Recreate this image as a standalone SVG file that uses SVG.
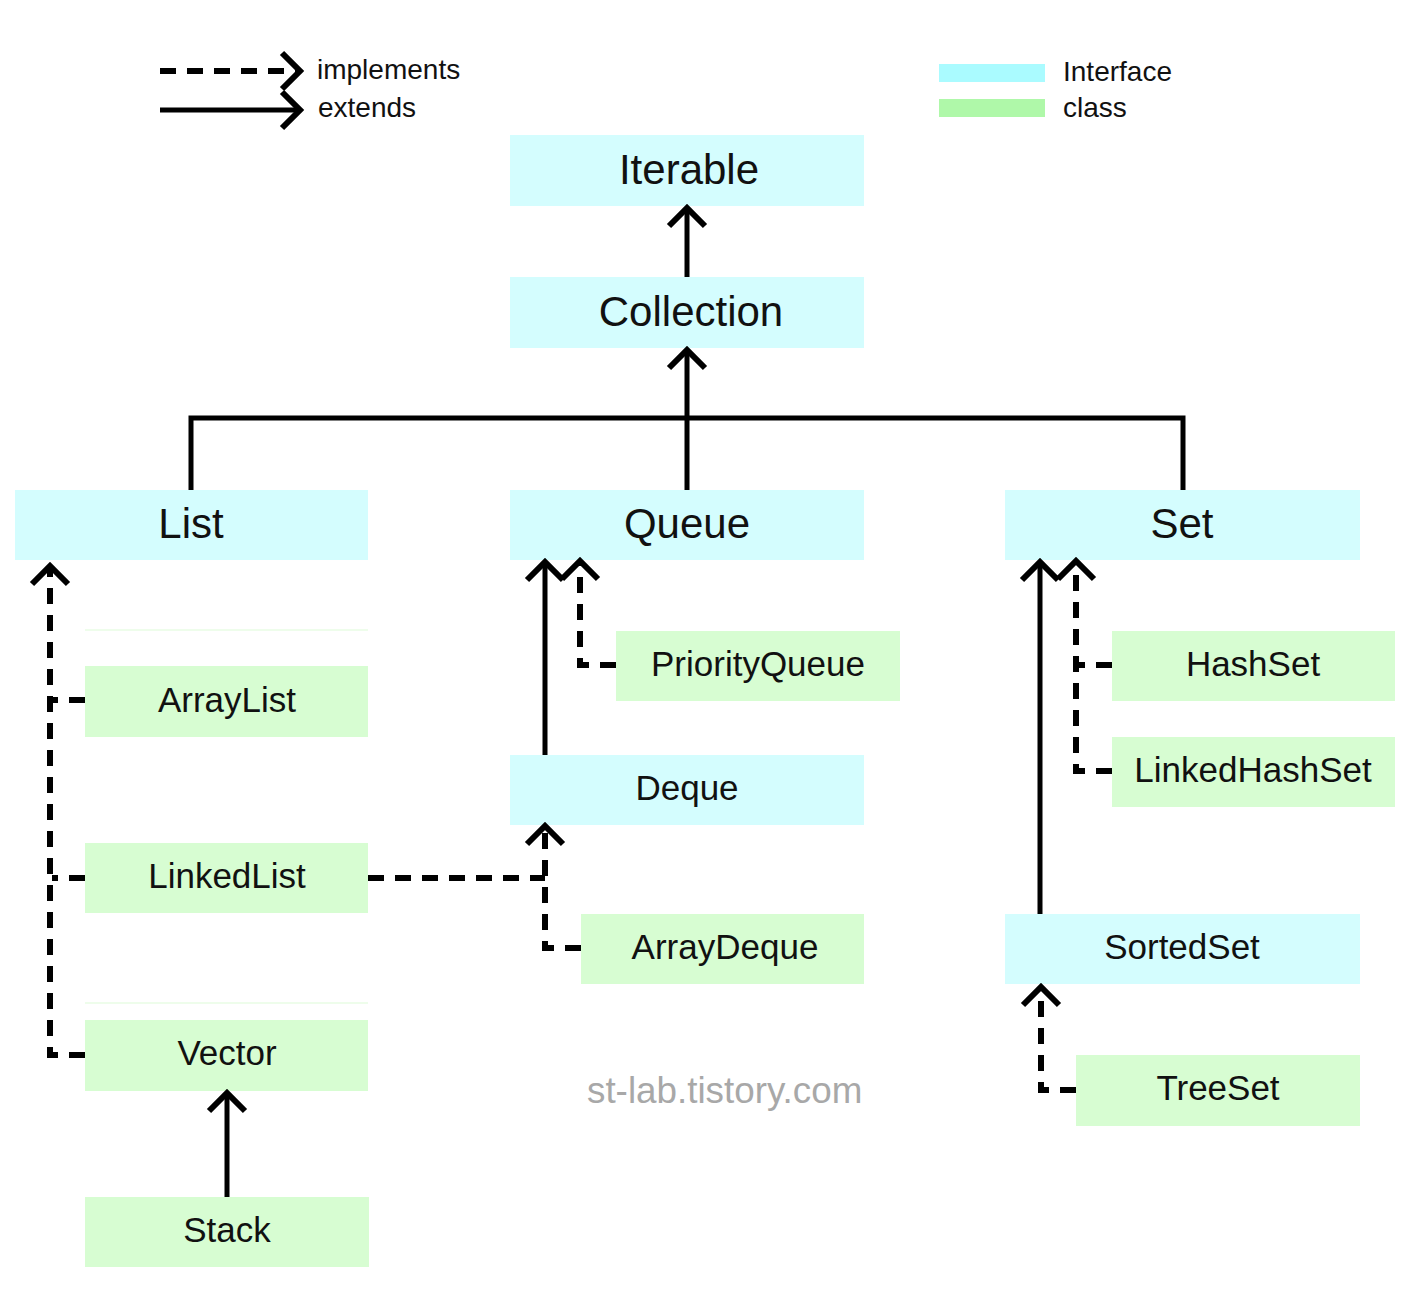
<svg xmlns="http://www.w3.org/2000/svg" width="1416" height="1306" viewBox="0 0 1416 1306">
<style>
.iface{fill:#D4FDFE}
.cls{fill:#D7FDD2}
.lbl{font-family:"Liberation Sans",Arial,sans-serif;fill:#111;text-anchor:middle}
.big{font-size:42px}
.mid{font-size:35px}
.leg{font-family:"Liberation Sans",Arial,sans-serif;fill:#111;font-size:28px}
.solid{fill:none;stroke:#000;stroke-width:5}
.dash{fill:none;stroke:#000;stroke-width:6;stroke-dasharray:16 11}
.faint{stroke:#E8FDE5;stroke-width:1.5}
</style>
<defs>
<marker id="chev" markerUnits="userSpaceOnUse" viewBox="-26 -24 30 48" refX="0" refY="0" markerWidth="30" markerHeight="48" orient="auto" overflow="visible">
<path d="M -18 -18 L 0 0 L -18 18" fill="none" stroke="#000" stroke-width="6" stroke-linejoin="miter"/>
</marker>
</defs>
<rect width="1416" height="1306" fill="#fff"/>

<g id="legend">
<path class="dash" d="M 160 71 H 300" marker-end="url(#chev)"/>
<path class="solid" d="M 160 110 H 300" marker-end="url(#chev)"/>
<text class="leg" x="317" y="79">implements</text>
<text class="leg" x="318" y="117">extends</text>
<rect x="939" y="64" width="106" height="18" fill="#AAFBFF"/>
<rect x="939" y="99" width="106" height="18" fill="#AFF8A9"/>
<text class="leg" x="1063" y="81">Interface</text>
<text class="leg" x="1063" y="117">class</text>
</g>

<g id="faint-lines">
<line class="faint" x1="85" y1="630" x2="368" y2="630"/>
<line class="faint" x1="85" y1="1003" x2="368" y2="1003"/>
</g>

<g id="node-iterable"><rect class="iface" x="510" y="135" width="354" height="71"/><text class="lbl big" x="689" y="184">Iterable</text></g>
<g id="node-collection"><rect class="iface" x="510" y="277" width="354" height="71"/><text class="lbl big" x="691" y="326">Collection</text></g>
<g id="node-list"><rect class="iface" x="15" y="490" width="353" height="70"/><text class="lbl big" x="191" y="538">List</text></g>
<g id="node-queue"><rect class="iface" x="510" y="490" width="354" height="70"/><text class="lbl big" x="687" y="538">Queue</text></g>
<g id="node-set"><rect class="iface" x="1005" y="490" width="355" height="70"/><text class="lbl big" x="1182" y="538">Set</text></g>
<g id="node-arraylist"><rect class="cls" x="85" y="666" width="283" height="71"/><text class="lbl mid" x="227" y="712">ArrayList</text></g>
<g id="node-linkedlist"><rect class="cls" x="85" y="843" width="283" height="70"/><text class="lbl mid" x="227" y="888">LinkedList</text></g>
<g id="node-vector"><rect class="cls" x="85" y="1020" width="283" height="71"/><text class="lbl mid" x="227" y="1065">Vector</text></g>
<g id="node-stack"><rect class="cls" x="85" y="1197" width="284" height="70"/><text class="lbl mid" x="227" y="1242">Stack</text></g>
<g id="node-priorityqueue"><rect class="cls" x="616" y="631" width="284" height="70"/><text class="lbl mid" x="758" y="676">PriorityQueue</text></g>
<g id="node-deque"><rect class="iface" x="510" y="755" width="354" height="70"/><text class="lbl mid" x="687" y="800">Deque</text></g>
<g id="node-arraydeque"><rect class="cls" x="581" y="914" width="283" height="70"/><text class="lbl mid" x="725" y="959">ArrayDeque</text></g>
<g id="node-hashset"><rect class="cls" x="1112" y="631" width="283" height="70"/><text class="lbl mid" x="1253" y="676">HashSet</text></g>
<g id="node-linkedhashset"><rect class="cls" x="1112" y="737" width="283" height="70"/><text class="lbl mid" x="1253" y="782">LinkedHashSet</text></g>
<g id="node-sortedset"><rect class="iface" x="1005" y="914" width="355" height="70"/><text class="lbl mid" x="1182" y="959">SortedSet</text></g>
<g id="node-treeset"><rect class="cls" x="1076" y="1055" width="284" height="71"/><text class="lbl mid" x="1218" y="1100">TreeSet</text></g>

<g id="connectors">
<path class="solid" d="M 687 277 V 208" marker-end="url(#chev)"/>
<path class="solid" d="M 191 490 V 418 H 1183 V 490"/>
<path class="solid" d="M 687 490 V 350" marker-end="url(#chev)"/>
<path class="dash" d="M 85 1055 H 50 V 566" marker-end="url(#chev)"/>
<path class="dash" d="M 85 700 H 52"/>
<path class="dash" d="M 85 878 H 52"/>
<path class="solid" d="M 545 755 V 562" marker-end="url(#chev)"/>
<path class="dash" d="M 616 665 H 580 V 561" marker-end="url(#chev)"/>
<path class="dash" d="M 368 878 H 545"/>
<path class="dash" d="M 581 948 H 545 V 826" marker-end="url(#chev)"/>
<path class="solid" d="M 1040 914 V 562" marker-end="url(#chev)"/>
<path class="dash" d="M 1112 771 H 1076 V 561" marker-end="url(#chev)"/>
<path class="dash" d="M 1112 665 H 1078"/>
<path class="dash" d="M 1076 1090 H 1041 V 987" marker-end="url(#chev)"/>
<path class="solid" d="M 227 1197 V 1093" marker-end="url(#chev)"/>
</g>

<text id="watermark" x="587" y="1103" font-family="'Liberation Sans',Arial,sans-serif" font-size="36.8" fill="#A8A8A8">st-lab.tistory.com</text>
</svg>
